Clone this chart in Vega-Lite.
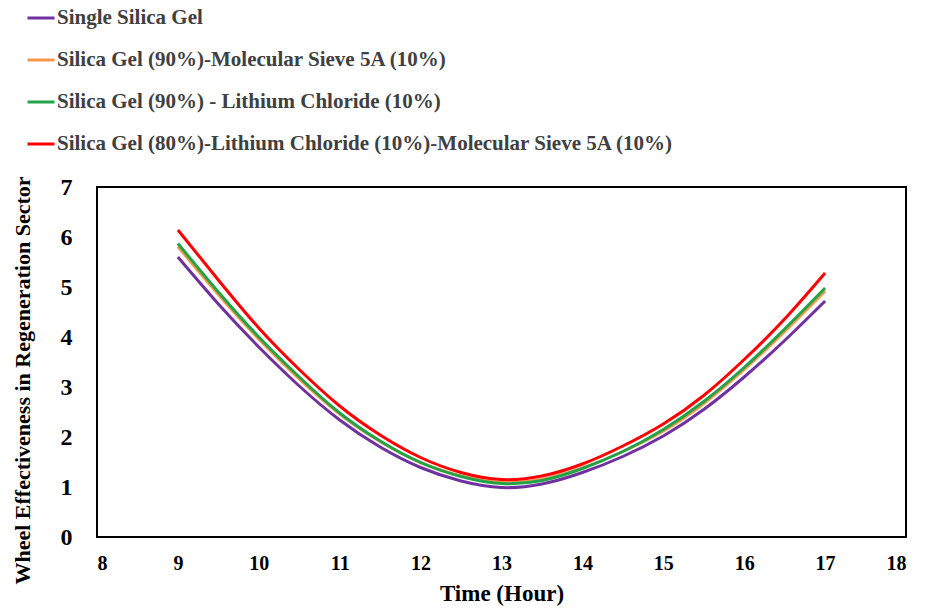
{
  "$schema": "https://vega.github.io/schema/vega-lite/v6.json",
  "width": 809,
  "height": 350,
  "autosize": {"type": "none"},
  "padding": {"left": 97, "top": 187, "right": 29, "bottom": 71},
  "background": "white",
  "config": {
    "view": {"stroke": "black", "strokeWidth": 2},
    "font": "Liberation Serif"
  },
  "data": {
    "values": [
      {"t": 9, "P": 5.60, "O": 5.81, "G": 5.87, "R": 6.14},
      {"t": 9.5, "P": 4.66, "O": 4.85, "G": 4.90, "R": 5.14},
      {"t": 10, "P": 3.80, "O": 3.96, "G": 4.00, "R": 4.18},
      {"t": 10.5, "P": 3.02, "O": 3.16, "G": 3.20, "R": 3.35},
      {"t": 11, "P": 2.34, "O": 2.46, "G": 2.48, "R": 2.62},
      {"t": 11.5, "P": 1.80, "O": 1.91, "G": 1.92, "R": 2.04},
      {"t": 12, "P": 1.39, "O": 1.49, "G": 1.49, "R": 1.59},
      {"t": 12.5, "P": 1.12, "O": 1.22, "G": 1.21, "R": 1.29},
      {"t": 13, "P": 0.99, "O": 1.09, "G": 1.07, "R": 1.15},
      {"t": 13.5, "P": 1.06, "O": 1.15, "G": 1.13, "R": 1.22},
      {"t": 14, "P": 1.29, "O": 1.38, "G": 1.37, "R": 1.46},
      {"t": 14.5, "P": 1.61, "O": 1.71, "G": 1.71, "R": 1.82},
      {"t": 15, "P": 2.02, "O": 2.12, "G": 2.15, "R": 2.26},
      {"t": 15.5, "P": 2.55, "O": 2.67, "G": 2.71, "R": 2.83},
      {"t": 16, "P": 3.20, "O": 3.35, "G": 3.39, "R": 3.55},
      {"t": 16.5, "P": 3.93, "O": 4.11, "G": 4.16, "R": 4.36},
      {"t": 17, "P": 4.72, "O": 4.92, "G": 4.98, "R": 5.28}
    ]
  },
  "transform": [
    {"fold": ["P", "O", "G", "R"], "as": ["key", "value"]},
    {"lookup": "key", "from": {"data": {"values": [
      {"key": "P", "series": "Single Silica Gel"},
      {"key": "O", "series": "Silica Gel (90%)-Molecular Sieve 5A (10%)"},
      {"key": "G", "series": "Silica Gel (90%) - Lithium Chloride (10%)"},
      {"key": "R", "series": "Silica Gel (80%)-Lithium Chloride (10%)-Molecular Sieve 5A (10%)"}
    ]}, "key": "key", "fields": ["series"]}}
  ],
  "mark": {"type": "line", "interpolate": "natural", "strokeWidth": 3},
  "encoding": {
    "x": {
      "field": "t", "type": "quantitative",
      "scale": {"domain": [8, 18], "nice": false, "zero": false},
      "axis": {
        "values": [8, 9, 10, 11, 12, 13, 14, 15, 16, 17, 18],
        "title": "Time (Hour)", "grid": false, "domain": false, "ticks": false,
        "labelFont": "Liberation Serif", "labelFontSize": 20, "labelFontWeight": "bold", "labelColor": "black",
        "labelPadding": 16,
        "titleFont": "Liberation Serif", "titleFontSize": 23, "titleFontWeight": "bold", "titleColor": "black",
        "titlePadding": 9
      }
    },
    "y": {
      "field": "value", "type": "quantitative",
      "scale": {"domain": [0, 7], "nice": false},
      "axis": {
        "values": [0, 1, 2, 3, 4, 5, 6, 7],
        "title": "Wheel Effectiveness in Regeneration Sector", "grid": false, "domain": false, "ticks": false,
        "labelFont": "Liberation Serif", "labelFontSize": 24, "labelFontWeight": "bold", "labelColor": "black",
        "labelPadding": 25,
        "titleFont": "Liberation Serif", "titleFontSize": 22, "titleFontWeight": "bold", "titleColor": "black",
        "titlePadding": 26, "titleY": 193
      }
    },
    "color": {
      "field": "series", "type": "nominal",
      "scale": {
        "domain": ["Single Silica Gel", "Silica Gel (90%)-Molecular Sieve 5A (10%)", "Silica Gel (90%) - Lithium Chloride (10%)", "Silica Gel (80%)-Lithium Chloride (10%)-Molecular Sieve 5A (10%)"],
        "range": ["#7030A0", "#F79646", "#22A34A", "#FF0000"]
      },
      "legend": {
        "orient": "none", "legendX": -71, "legendY": -184,
        "title": null,
        "symbolType": "stroke", "symbolSize": 729, "symbolStrokeWidth": 3,
        "labelFont": "Liberation Serif", "labelFontSize": 21, "labelFontWeight": "bold", "labelColor": "#404040",
        "labelOffset": 1, "rowPadding": 17, "labelLimit": 800
      }
    }
  }
}
